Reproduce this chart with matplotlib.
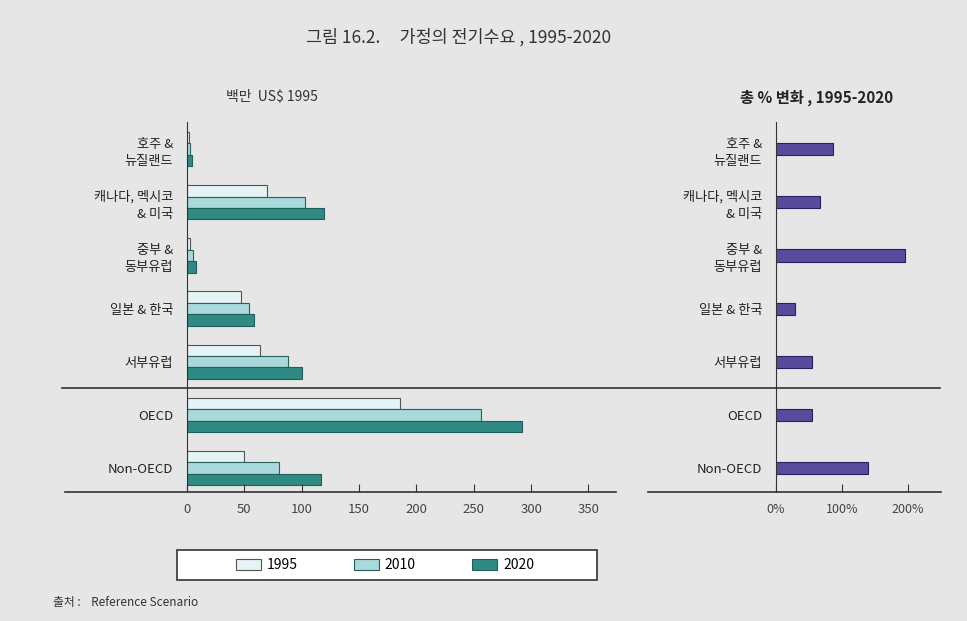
import matplotlib
matplotlib.use("Agg")
import matplotlib.pyplot as plt
import matplotlib.transforms as mtransforms
from matplotlib.patches import Rectangle
import numpy as np

plt.rcParams['font.family'] = ['Noto Sans CJK KR', 'DejaVu Sans']

regions = ["호주 &\n뉴질랜드", "캐나다, 멕시코\n& 미국", "중부 &\n동부유럽",
           "일본 & 한국", "서부유럽", "OECD", "Non-OECD"]
years = ["1995", "2010", "2020"]
demand_1995 = [2, 70, 3, 47, 64, 186, 50]
demand_2010 = [3, 103, 5, 54, 88, 256, 80]
demand_2020 = [4, 119, 8, 58, 100, 292, 117]
pct_change = [87, 67, 196, 29, 55, 55, 140]
left_ticks = [0, 50, 100, 150, 200, 250, 300, 350]
right_ticks = [0, 100, 200]
right_tick_labels = ["0%", "100%", "200%"]

BG = '#e6e6e6'
C1995 = '#e4f3f3'
C2010 = '#a9d9da'
C2020 = '#2f8a84'
CPCT = '#5a4a9c'
LINE = '#333333'

fig = plt.figure(figsize=(9.67, 6.21), dpi=100, facecolor=BG)

ax1 = fig.add_axes([0.1934, 0.2077, 0.4436, 0.5958])
ax2 = fig.add_axes([0.8025, 0.2077, 0.1706, 0.5958])

y = np.arange(len(regions))
h = 0.215
ax1.barh(y - h, demand_1995, height=h, color=C1995, edgecolor='#555555', linewidth=0.8, label=years[0])
ax1.barh(y, demand_2010, height=h, color=C2010, edgecolor='#2b5f5c', linewidth=0.8, label=years[1])
ax1.barh(y + h, demand_2020, height=h, color=C2020, edgecolor='#1f5e5a', linewidth=0.8, label=years[2])

ax2.barh(y, pct_change, height=0.23, color=CPCT, edgecolor='#2a2060', linewidth=0.8)

for ax in (ax1, ax2):
    ax.set_facecolor('none')
    ax.set_ylim(6.45, -0.51)
    for s in ('top', 'right'):
        ax.spines[s].set_visible(False)
    ax.spines['left'].set_color(LINE)
    ax.spines['bottom'].set_visible(False)
    ax.tick_params(axis='y', length=0, pad=10, labelsize=9.5, colors='#222222')
    ax.tick_params(axis='x', direction='in', length=6, pad=8, labelsize=9.5,
                   colors='#444444', color=LINE)
    ax.set_yticks(y)
    ax.set_yticklabels(regions, linespacing=1.45)

ax1.set_xlim(0, 374)
ax1.set_xticks(left_ticks)
ax1.set_xticklabels([str(t) for t in left_ticks])

ax2.set_xlim(0, 250)
ax2.set_xticks(right_ticks)
ax2.set_xticklabels(right_tick_labels, fontsize=9)

# bottom axis lines that reach past the y axis
ax1.plot([-0.284, 1.0], [0, 0], transform=ax1.transAxes, color=LINE, lw=1.2, clip_on=False)
ax2.plot([-0.776, 1.0], [0, 0], transform=ax2.transAxes, color=LINE, lw=1.2, clip_on=False)

# OECD separator across both panels
tr = mtransforms.blended_transform_factory(fig.transFigure, ax1.transData)
fig.add_artist(plt.Line2D([0.064, 0.972], [4.5, 4.5], transform=tr, color=LINE, lw=1.2))

fig.text(0.474, 0.94, "그림 16.2.     가정의 전기수요 , 1995-2020", ha='center', va='center',
         fontsize=12.5, color='#333333')
fig.text(0.281, 0.843, "백만  US$ 1995", ha='center', va='center', fontsize=10, color='#333333')
fig.text(0.844, 0.843, "총 % 변화 , 1995-2020", ha='center', va='center', fontsize=11,
         color='#222222', fontweight='bold')

# legend: white framed box drawn by hand, entries inside
fig.add_artist(Rectangle((176.6 / 967, 1 - 580 / 621), (597 - 176.6) / 967, 30.4 / 621,
                         transform=fig.transFigure, facecolor='white',
                         edgecolor='#333333', linewidth=1.2))
leg = fig.legend(loc='center', bbox_to_anchor=(0.398, 0.090), ncol=3, fontsize=10,
                 frameon=False, handlelength=1.8, handleheight=0.8, handletextpad=0.43,
                 columnspacing=4.06, borderpad=0.2)
leg.set_zorder(5)

fig.text(0.055, 0.029, "출처 :    Reference Scenario", ha='left', va='center', fontsize=8.5,
         color='#333333')

fig.savefig("out.png", dpi=100, facecolor=BG)
